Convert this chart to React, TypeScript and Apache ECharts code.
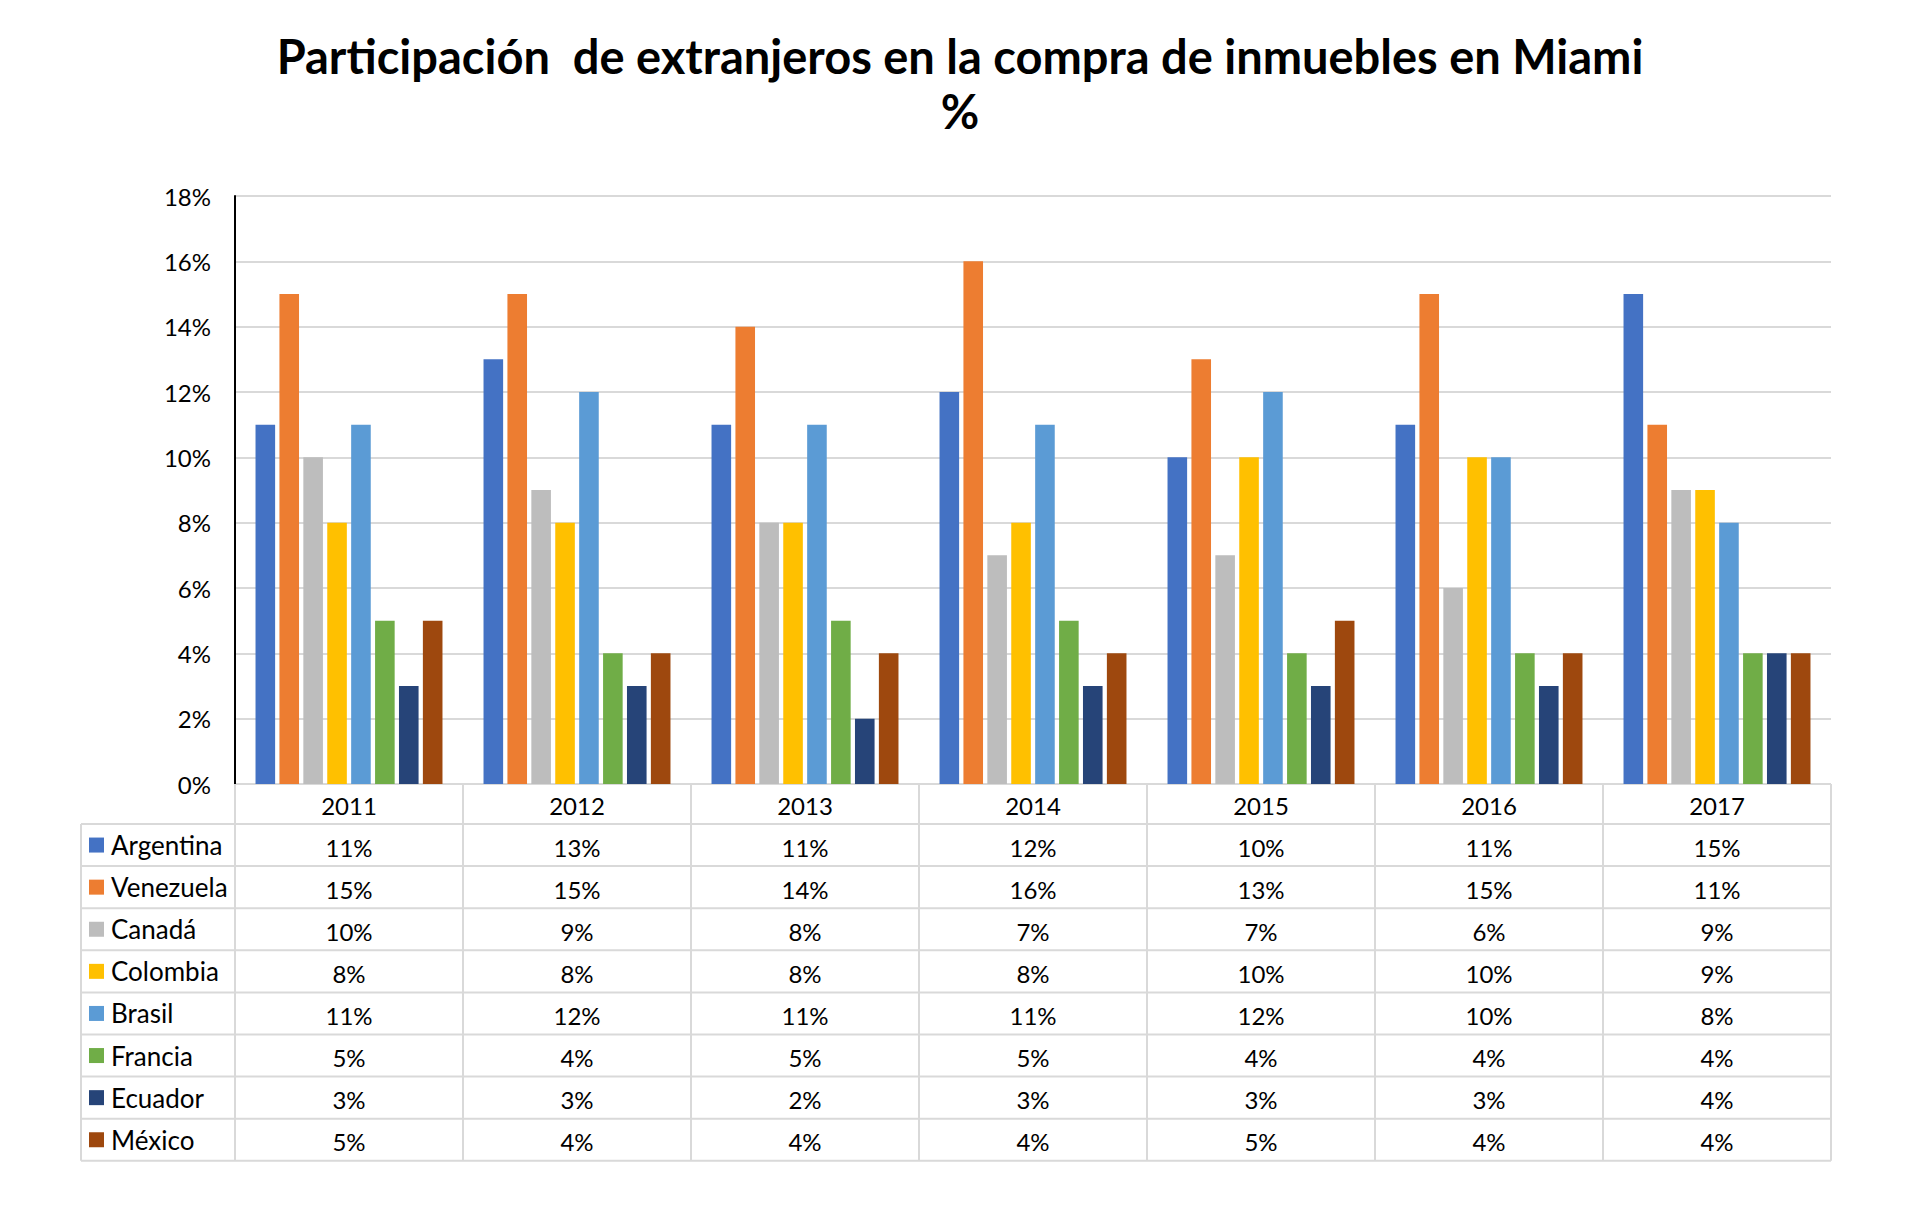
import React, { useEffect, useRef } from "react";
import * as echarts from "echarts";

const years = ["2011", "2012", "2013", "2014", "2015", "2016", "2017"];
const countries = ["Argentina", "Venezuela", "Canadá", "Colombia", "Brasil", "Francia", "Ecuador", "México"];
const argentina = [11, 13, 11, 12, 10, 11, 15];
const venezuela = [15, 15, 14, 16, 13, 15, 11];
const canada = [10, 9, 8, 7, 7, 6, 9];
const colombia = [8, 8, 8, 8, 10, 10, 9];
const brasil = [11, 12, 11, 11, 12, 10, 8];
const francia = [5, 4, 5, 5, 4, 4, 4];
const ecuador = [3, 3, 2, 3, 3, 3, 4];
const mexico = [5, 4, 4, 4, 5, 4, 4];
const seriesValues = [argentina, venezuela, canada, colombia, brasil, francia, ecuador, mexico];
const colors = ["#4472C4", "#ED7D31", "#BDBDBD", "#FFC000", "#5B9BD5", "#70AD47", "#264478", "#9E480E"];
const yMin = 0;
const yMax = 18;
const yStep = 2;

const FONT = "Lato, 'Open Sans', sans-serif";

export default function App() {
  const ref = useRef<HTMLDivElement>(null);
  useEffect(() => {
    if (!ref.current) return;
    const chart = echarts.init(ref.current, null, { renderer: "svg" });
    const gridLeft = 235;
    const gridRight = 1831;
    const gridTop = 196;
    const axisY = 784;
    const headerBottom = 824;
    const rowH = 42.1;
    const tableLeft = 81;
    const tableBottom = headerBottom + rowH * countries.length;
    const lineStyle = { stroke: "#D9D9D9", lineWidth: 2 };
    const graphics: any[] = [];
    graphics.push({ type: "line", shape: { x1: gridLeft, y1: axisY, x2: gridRight, y2: axisY }, style: lineStyle, silent: true });
    for (let k = 0; k <= countries.length; k++) {
      const y = headerBottom + rowH * k;
      graphics.push({ type: "line", shape: { x1: tableLeft, y1: y, x2: gridRight, y2: y }, style: lineStyle, silent: true });
    }
    graphics.push({ type: "line", shape: { x1: tableLeft, y1: headerBottom, x2: tableLeft, y2: tableBottom }, style: lineStyle, silent: true });

    chart.setOption({
      animation: false,
      backgroundColor: "#fff",
      textStyle: { fontFamily: FONT },
      title: {
        text: "Participación  de extranjeros en la compra de inmuebles en Miami\n%",
        left: "center",
        top: 28,
        padding: 0,
        textStyle: { fontFamily: FONT, fontWeight: "bold", fontSize: 47, lineHeight: 55, color: "#000", align: "center" },
      },
      legend: {
        orient: "vertical",
        left: 89,
        top: headerBottom,
        padding: 0,
        itemGap: 0,
        itemWidth: 15,
        itemHeight: 15,
        icon: "rect",
        selectedMode: false,
        data: countries,
        textStyle: { fontFamily: FONT, fontSize: 26, color: "#000", lineHeight: rowH, padding: [0, 0, 0, 2] },
      },
      grid: { left: gridLeft, right: 1920 - gridRight, top: gridTop, bottom: 1207 - axisY, containLabel: false },
      xAxis: {
        type: "category",
        data: years,
        axisLine: { show: false },
        axisTick: { show: true, length: tableBottom - axisY, lineStyle: { color: "#D9D9D9", width: 2 } },
        axisLabel: {
          interval: 0,
          margin: 0,
          fontFamily: FONT,
          fontSize: 24,
          color: "#000",
          lineHeight: rowH,
          formatter: (val: string, idx: number) =>
            [val, ...seriesValues.map((s) => s[idx] + "%")].join("\n"),
        },
      },
      yAxis: {
        type: "value",
        min: yMin,
        max: yMax,
        interval: yStep,
        axisLine: { show: true, lineStyle: { color: "#000", width: 2 } },
        axisTick: { show: false },
        splitLine: { lineStyle: { color: "#D9D9D9", width: 2 } },
        axisLabel: { fontFamily: FONT, fontSize: 24, color: "#000", margin: 24, formatter: "{value}%" },
      },
      series: countries.map((name, i) => ({
        name,
        type: "bar",
        data: seriesValues[i],
        itemStyle: { color: colors[i] },
        barGap: "22%",
        barCategoryGap: "18%",
      })),
      graphic: graphics,
    });
    return () => chart.dispose();
  }, []);
  return <div ref={ref} style={{ position: "absolute", left: 0, top: 0, width: 1920, height: 1207 }} />;
}
